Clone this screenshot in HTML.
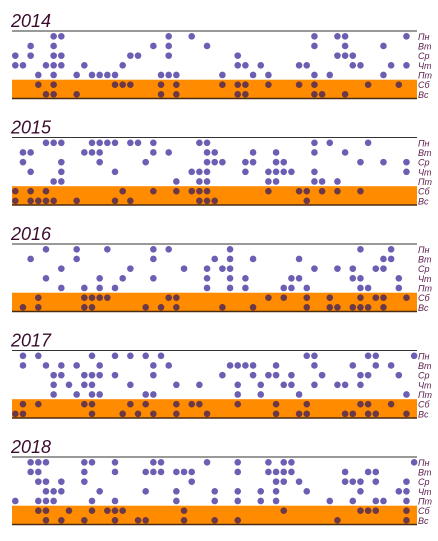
<!DOCTYPE html>
<html><head><meta charset="utf-8"><style>
html,body{margin:0;padding:0;background:#fff;}
body{width:438px;height:536px;overflow:hidden;}
svg text{font-family:"Liberation Sans",sans-serif;}
</style></head><body>
<svg id="chart" width="438" height="536" xmlns="http://www.w3.org/2000/svg"></svg>
<script>
const years = ["2014","2015","2016","2017","2018"];
const dayLabels = ["Пн","Вт","Ср","Чт","Пт","Сб","Вс"];
// week indices with a dot, per year, per weekday (Mon..Sun)
const weeks2014 = [[5,6,20,23,39,42,43,51],[2,5,18,20,25,39,43,48],[0,2,5,6,15,16,20,29,42,43,44],[0,1,4,5,6,9,14,29,30,32,37,38,44,45,49,51],[3,5,8,10,11,12,13,19,20,21,27,31,33,39,41,48],[3,5,13,14,15,19,21,27,29,30,33,37,39,46,50],[4,5,8,19,21,29,30,39,40,43]];
const weeks2015 = [[4,5,6,10,11,12,13,15,16,18,24,25,39,41,46],[1,2,9,10,11,18,20,25,26,31,34,39,43],[1,6,11,17,25,26,27,30,31,34,35,45,48,51],[2,6,13,23,24,25,30,33,34,35,36,39,51],[5,6,21,24,25,33,34,39,40,42],[0,2,4,14,18,21,23,24,25,33,37,38,40,42,45],[0,2,3,4,5,8,13,15,24,25,26,38]];
const weeks2016 = [[4,8,12,18,20,28,45,49],[2,8,18,26,28,31,37,48,49],[6,15,22,25,27,28,39,42,44,47,48],[4,11,14,18,25,28,30,36,37,44,45,50],[6,9,11,13,25,28,30,35,36,38,45,46,50],[3,9,10,11,12,20,21,33,35,38,41,45,47,48,51],[1,3,9,10,17,19,21,27,31,38,41,42,44,45,46,48]];
const weeks2017 = [[1,3,10,13,15,17,19,38,39,46,47,52],[1,4,6,8,11,18,20,28,29,30,31,34,39,44,47,49],[5,6,9,10,11,13,18,27,31,33,34,36,40,45,46,50],[5,7,9,10,15,21,24,29,32,35,36,39,42,43,45],[5,8,10,11,17,18,29,32,37,51],[1,3,9,10,15,17,21,23,24,29,34,38,45,46,49],[0,1,10,14,16,18,21,25,34,37,38,43,44,46,47,51]];
const weeks2018 = [[2,3,4,9,10,13,18,19,25,29,33,35,36,52],[2,3,9,13,17,18,19,21,22,23,29,33,34,35,36,43,46,47],[3,4,6,9,23,34,35,37,43,44,45,47,51],[4,5,6,11,17,21,26,29,32,34,38,45,50,51],[0,3,4,5,10,13,21,26,29,32,34,41,44,47,48,51],[3,4,7,10,12,13,14,22,35,45,46,47,51],[4,6,9,13,16,17,22,26,29,42,51]];
const yearData = [weeks2014, weeks2015, weeks2016, weeks2017, weeks2018];

const svg = document.getElementById('chart');
const NS = 'http://www.w3.org/2000/svg';
const panelH = 106.5, left = 12, right = 417;
function xScale(w){ return 15.3 + w * 7.67; }
function yScale(p, d){ return 36.3 + p * panelH + d * 9.67; }
function mk(tag, attrs){ const e = document.createElementNS(NS, tag); for (const k in attrs) e.setAttribute(k, attrs[k]); svg.appendChild(e); return e; }

years.forEach((yr, p) => {
  const off = p * panelH;
  const band = mk('rect', {x:left, y:79.7+off, width:right-left, height:19, fill:'#ff8c00'});
  
  
  const top = mk('line', {x1:left, x2:right, y1:31+off, y2:31+off, stroke:'#333', 'stroke-width':1});
  
  
  const bot = mk('line', {x1:left, x2:right, y1:98.5+off, y2:98.5+off, stroke:'#4a2a10', 'stroke-width':1.5});
  
  
  const t = mk('text', {x:11, y:27+off, 'font-size':18, 'font-style':'italic', fill:'#3b0b2e'});
  t.textContent = yr;
  
  
  dayLabels.forEach((dl, d) => {
    const lt = mk('text', {x:418, y:yScale(p, d)+3.5, 'font-size':9, 'font-style':'italic', fill:'#5a1a4a'});
    lt.textContent = dl;
    
    
    yearData[p][d].forEach(w => {
      const c = mk('circle', {cx:xScale(w), cy:yScale(p, d), r:3.3, fill: d >= 5 ? '#6b3848' : '#6a5fb2'});
      
      
    });
  });
});
</script>
</body></html>
